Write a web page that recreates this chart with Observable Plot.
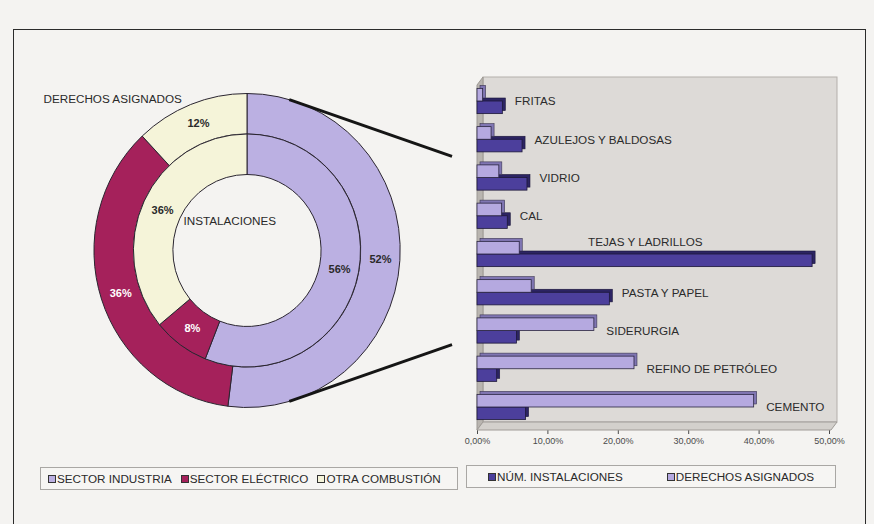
<!DOCTYPE html>
<html><head><meta charset="utf-8">
<script src="https://cdn.jsdelivr.net/npm/d3@7"></script>
<script src="https://cdn.jsdelivr.net/npm/@observablehq/plot@0.6"></script>
<style>
html,body{margin:0;padding:0;background:#f4f3f1;}
#page{position:relative;width:874px;height:524px;overflow:hidden;background:#f4f3f1;font-family:"Liberation Sans",Arial,sans-serif;color:#222;}
#frame{position:absolute;left:13px;top:29px;width:853px;height:520px;border:1.5px solid #2b2b2b;border-bottom:none;box-sizing:border-box;}
#donut{position:absolute;left:20px;top:60px;}
#bars{position:absolute;left:440px;top:60px;}
.legend{position:absolute;height:23px;border:1px solid #a9a7a4;background:#f6f5f3;box-sizing:border-box;display:flex;align-items:center;font-size:11.7px;color:#2a2a2a;white-space:nowrap;}
.sw{display:inline-block;width:6px;height:6px;border:1px solid #333;margin-right:1px;}
.item{display:inline-flex;align-items:center;}
</style></head>
<body><div id="page"><div id="frame"></div><div id="donut"></div><div id="bars"></div>
<div id="legL" class="legend" style="left:40px;top:467px;width:418px;padding-left:7px;"></div>
<div id="legR" class="legend" style="left:466px;top:465px;width:370px;padding-left:21px;"></div>
</div>
<script>
// ---- data ----
const sectors = ["SECTOR INDUSTRIA", "SECTOR ELÉCTRICO", "OTRA COMBUSTIÓN"];
const instalacionesPct = [56, 8, 36];
const derechosPct = [52, 36, 12];
const categories = ["FRITAS", "AZULEJOS Y BALDOSAS", "VIDRIO", "CAL", "TEJAS Y LADRILLOS", "PASTA Y PAPEL", "SIDERURGIA", "REFINO DE PETRÓLEO", "CEMENTO"];
const numInstalaciones = [3.6, 6.4, 7.1, 4.3, 47.6, 18.8, 5.6, 2.8, 6.9];
const derechosAsignados = [0.8, 2.0, 3.1, 3.5, 6.0, 7.7, 16.6, 22.3, 39.3];
const xTicks = [0, 10, 20, 30, 40, 50];
const seriesNames = ["NÚM. INSTALACIONES", "DERECHOS ASIGNADOS"];

// ---- styles ----
const sectorColors = ["#bbb0e2", "#a5215b", "#f5f4d9"];
const seriesColors = ["#4c3f9c", "#b5a9e0"];
const font = "Liberation Sans, Arial, sans-serif";

// ---- donut ----
const R_OUT = 1, R_MID = 0.742, R_IN = 0.484;
const pie = d3.pie().sort(null).value(d => d.v);
function ring(vals, r0, r1) {
  return pie(vals.map((v, i) => ({v, i}))).map(a => ({
    v: a.data.v, i: a.data.i, a0: a.startAngle, a1: a.endAngle,
    mid: (a.startAngle + a.endAngle) / 2, r0, r1, rm: (r0 + r1) / 2
  }));
}
const rings = [...ring(derechosPct, R_MID, R_OUT), ...ring(instalacionesPct, R_IN, R_MID)];

function arcsMark(index, scales, values, dims) {
  const cx = scales.x(0), cy = scales.y(0);
  const rx = scales.x(1) - cx, ry = cy - scales.y(1);
  const g = d3.create("svg:g");
  const arc = d3.arc();
  g.append("g").attr("transform", `translate(${cx},${cy}) scale(${rx},${ry})`)
    .selectAll("path").data(rings).join("path")
    .attr("d", d => arc({innerRadius: d.r0, outerRadius: d.r1, startAngle: d.a0, endAngle: d.a1}))
    .attr("fill", d => sectorColors[d.i])
    .attr("stroke", "#2a2530").attr("stroke-width", 1)
    .attr("vector-effect", "non-scaling-stroke");
  // connector lines to the bar chart
  const th = 0.28;
  const conn = [[Math.sin(th), Math.cos(th), 1.34, 0.6], [Math.sin(th), -Math.cos(th), 1.34, -0.6]];
  conn.forEach(([x1, y1, x2, y2]) => {
    g.append("line").attr("x1", scales.x(x1)).attr("y1", scales.y(y1))
      .attr("x2", scales.x(x2)).attr("y2", scales.y(y2))
      .attr("stroke", "#151515").attr("stroke-width", 3);
  });
  return g.node();
}

const cxS = 227, cyS = 190.5;
const donut = Plot.plot({
  width: 440, height: 380, margin: 0,
  x: {domain: [-1, 1], range: [cxS - 153, cxS + 153], axis: null},
  y: {domain: [-1, 1], range: [cyS + 157, cyS - 157], axis: null},
  style: {background: "transparent", fontFamily: font},
  marks: [
    arcsMark,
    Plot.text(rings.filter(d => d.i !== 1), {x: d => d.rm * Math.sin(d.mid), y: d => d.rm * Math.cos(d.mid), text: d => d.v + "%", fontSize: 11, fontWeight: "bold", fill: "#2a2a2a"}),
    Plot.text(rings.filter(d => d.i === 1), {x: d => d.rm * Math.sin(d.mid), y: d => d.rm * Math.cos(d.mid), text: d => d.v + "%", fontSize: 11, fontWeight: "bold", fill: "#ffffff"}),
    Plot.text(["DERECHOS ASIGNADOS"], {frameAnchor: "top-left", textAnchor: "start", dx: 23, dy: 34, fontSize: 11.7, fill: "#2a2a2a"}),
    Plot.text(["INSTALACIONES"], {frameAnchor: "top-left", textAnchor: "start", dx: 163, dy: 156, fontSize: 11.7, fill: "#2a2a2a"})
  ]
});
document.getElementById("donut").append(donut);

// ---- bars ----
const barData = categories.map((c, i) => ({c, i, n: numInstalaciones[i], d: derechosAsignados[i]}));
const H = 0.33, D = 3;

function wallMark(index, scales, values, dims) {
  const x0 = scales.x(0), x1 = scales.x(50) + 2;
  const yb = dims.height - dims.marginBottom, yt = dims.marginTop;
  const dx = 6, dy = 8;
  const g = d3.create("svg:g");
  g.append("rect").attr("x", x0 + dx).attr("y", yt).attr("width", x1 - x0).attr("height", yb - dy - yt)
    .attr("fill", "#dddad7").attr("stroke", "#b3afab");
  g.append("path").attr("d", `M${x0},${yt + dy}L${x0 + dx},${yt}L${x0 + dx},${yb - dy}L${x0},${yb}Z`)
    .attr("fill", "#b9b5b0").attr("stroke", "#9c9893");
  g.append("path").attr("d", `M${x0},${yb}L${x0 + dx},${yb - dy}L${x1 + dx},${yb - dy}L${x1},${yb}Z`)
    .attr("fill", "#d3d0cc").attr("stroke", "#a09c98");
  return g.node();
}

const bars = Plot.plot({
  width: 420, height: 400, marginLeft: 37, marginRight: 31, marginTop: 17, marginBottom: 30,
  x: {domain: [0, 50], ticks: xTicks, tickFormat: v => v.toFixed(2).replace(".", ",") + "%", tickSize: 4, tickPadding: 3, label: null},
  y: {domain: [0, 8], range: [41, 347], axis: null},
  style: {background: "transparent", fontSize: "9px", color: "#4a4a4a", fontFamily: font},
  marks: [
    wallMark,
    Plot.rect(barData, {x1: 0, x2: "n", y1: "i", y2: d => d.i + H, dx: D, dy: -D, fill: "#2c2463", stroke: "#1a1538", strokeWidth: 0.6}),
    Plot.rect(barData, {x1: 0, x2: "n", y1: "i", y2: d => d.i + H, fill: seriesColors[0], stroke: "#1d1838", strokeWidth: 0.8}),
    Plot.rect(barData, {x1: 0, x2: "d", y1: d => d.i - H, y2: "i", dx: D, dy: -D, fill: "#8076b3", stroke: "#3a3450", strokeWidth: 0.6}),
    Plot.rect(barData, {x1: 0, x2: "d", y1: d => d.i - H, y2: "i", fill: seriesColors[1], stroke: "#2a2540", strokeWidth: 0.8}),
    Plot.text(barData, {
      x: d => d.n > 40 ? d.d + 8 : Math.max(d.n, d.d),
      y: d => d.n > 40 ? d.i - H : d.i,
      text: "c", textAnchor: "start", dx: 12, fontSize: 11.7, fill: "#2b2b2b"
    })
  ]
});
document.getElementById("bars").append(bars);

// ---- legends ----
function addItem(box, label, color, ml) {
  const it = document.createElement("span");
  it.className = "item";
  it.style.marginLeft = ml + "px";
  const sw = document.createElement("span");
  sw.className = "sw"; sw.style.background = color;
  const t = document.createElement("span");
  t.textContent = label;
  it.append(sw, t);
  box.append(it);
}
const legL = document.getElementById("legL");
sectors.forEach((s, i) => addItem(legL, s, sectorColors[i], i ? 9 : 0));
const legR = document.getElementById("legR");
seriesNames.forEach((s, i) => addItem(legR, s, seriesColors[i], i ? 44 : 0));
</script>
</body></html>
